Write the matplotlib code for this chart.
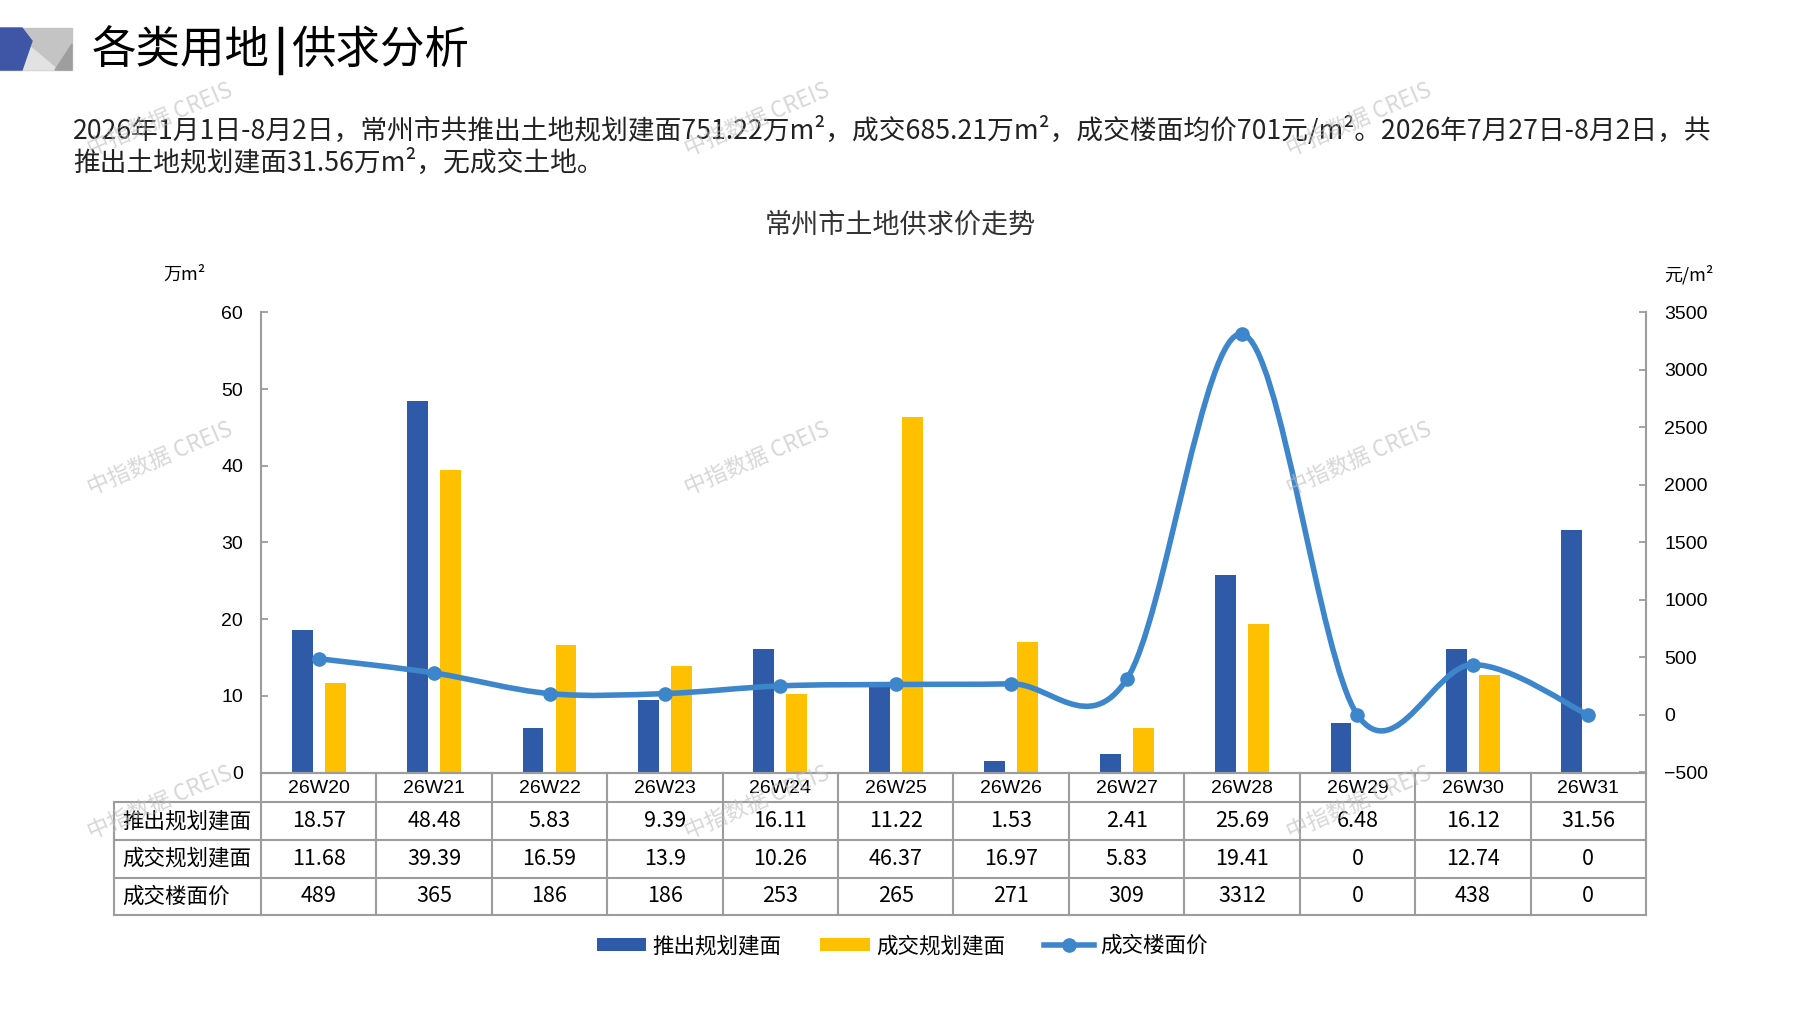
import numpy as np
import matplotlib
matplotlib.use('Agg')
import matplotlib.pyplot as plt
from matplotlib.path import Path
from matplotlib.patches import PathPatch, Polygon, Rectangle, Patch
from matplotlib.lines import Line2D
from matplotlib import transforms, font_manager

# data
weeks = ['26W20', '26W21', '26W22', '26W23', '26W24', '26W25',
         '26W26', '26W27', '26W28', '26W29', '26W30', '26W31']
push_area = [18.57, 48.48, 5.83, 9.39, 16.11, 11.22, 1.53, 2.41, 25.69, 6.48, 16.12, 31.56]
deal_area = [11.68, 39.39, 16.59, 13.9, 10.26, 46.37, 16.97, 5.83, 19.41, 0, 12.74, 0]
deal_price = [489, 365, 186, 186, 253, 265, 271, 309, 3312, 0, 438, 0]
row_names = ['推出规划建面', '成交规划建面', '成交楼面价']
left_ticks = [0, 10, 20, 30, 40, 50, 60]
right_ticks = [-500, 0, 500, 1000, 1500, 2000, 2500, 3000, 3500]

title_a, title_b = '各类用地', '供求分析'
para1 = '2026年1月1日-8月2日，常州市共推出土地规划建面751.22万m²，成交685.21万m²，成交楼面均价701元/m²。2026年7月27日-8月2日，共'
para2 = '推出土地规划建面31.56万m²，无成交土地。'
chart_title = '常州市土地供求价走势'

# colors / fonts
c_push = '#2F5AA8'
c_deal = '#FFC000'
c_line = '#3D86CC'
c_grid = '#9C9C9C'
cjk = ['Noto Sans CJK SC', 'DejaVu Sans']
names = {f.name for f in font_manager.fontManager.ttflist}
if 'Liberation Sans Narrow' in names:
    narrow, narrow_fs = 'Liberation Sans Narrow', 15.5
else:
    narrow, narrow_fs = 'Liberation Sans', 14
num = ['Liberation Sans', 'DejaVu Sans']

W, H = 1797, 1010
fig = plt.figure(figsize=(W / 100, H / 100), dpi=100)
pix = transforms.Affine2D().scale(1 / W, -1 / H).translate(0, 1) + fig.transFigure

# header logo
fig.patches.append(Rectangle((0, 28), 72, 42, transform=pix, color='#C4C4C4', zorder=1))
fig.patches.append(Polygon([(27, 44), (20, 70), (58, 70)], transform=pix, color='#E2E2E2', zorder=2))
fig.patches.append(Polygon([(55, 70), (72, 44), (72, 70)], transform=pix, color='#9E9E9E', zorder=2))
fig.patches.append(Polygon([(0, 28), (22, 28), (32, 41), (22, 70), (0, 70)], transform=pix,
                           color='#3E56A5', zorder=3))
fig.text(92, 50, title_a, transform=pix, fontsize=32, family=cjk, va='center', ha='left')
fig.lines.append(Line2D([281, 281], [29, 73], transform=pix, color='black', lw=3.2))
fig.text(291, 50, title_b, transform=pix, fontsize=32, family=cjk, va='center', ha='left')

t1 = fig.text(73, 130, para1, transform=pix, fontsize=18, family=cjk, va='center', ha='left',
              color='#222222')
t2 = fig.text(73, 163, para2, transform=pix, fontsize=18, family=cjk, va='center', ha='left',
              color='#222222')
fig.canvas.draw()
w1 = t1.get_window_extent().width
fs = 18 * (1709 - 73) / w1
t1.set_fontsize(fs)
t2.set_fontsize(fs)

fig.text(900, 225, chart_title, transform=pix, fontsize=19.5, family=cjk, va='center', ha='center',
         color='#333333')
fig.text(185, 275, '万m²', transform=pix, fontsize=13, family=cjk, va='center', ha='center')
fig.text(1689, 275, '元/m²', transform=pix, fontsize=13, family=cjk, va='center', ha='center')

# axes
ax = fig.add_axes([261 / W, 1 - 772.5 / H, (1646 - 261) / W, (772.5 - 312.3) / H])
ax2 = ax.twinx()

x = np.arange(len(weeks))
ax.bar(x - 0.143, push_area, width=0.18, color=c_push, zorder=2)
ax.bar(x + 0.143, deal_area, width=0.18, color=c_deal, zorder=2)
ax.set_xlim(-0.5, len(weeks) - 0.5)
ax.set_ylim(0, 60)
ax.set_yticks(left_ticks)
ax.set_xticks([])
ax2.set_ylim(-500, 3500)
ax2.set_yticks(right_ticks)

for a in (ax, ax2):
    for s in a.spines.values():
        s.set_visible(False)
    a.tick_params(axis='y', direction='in', length=5, width=1.3, color=c_grid,
                  labelsize=14, pad=13)
    for lab in a.get_yticklabels():
        lab.set_family(num)
ax.spines['left'].set_visible(True)
ax.spines['bottom'].set_visible(True)
ax2.spines['right'].set_visible(True)
for s in (ax.spines['left'], ax.spines['bottom'], ax2.spines['right']):
    s.set_color(c_grid)
    s.set_linewidth(1.5)

# smoothed price line (Catmull-Rom as cubic Bezier, like Excel smooth line)
xs = x.astype(float)
ys = np.array(deal_price, dtype=float)
n = len(xs)
verts = [(xs[0], ys[0])]
codes = [Path.MOVETO]
for i in range(n - 1):
    p0 = max(i - 1, 0)
    p3 = min(i + 2, n - 1)
    c1 = (xs[i] + (xs[i + 1] - xs[p0]) / 6, ys[i] + (ys[i + 1] - ys[p0]) / 6)
    c2 = (xs[i + 1] - (xs[p3] - xs[i]) / 6, ys[i + 1] - (ys[p3] - ys[i]) / 6)
    verts += [c1, c2, (xs[i + 1], ys[i + 1])]
    codes += [Path.CURVE4] * 3
ax2.add_patch(PathPatch(Path(verts, codes), facecolor='none', edgecolor=c_line, lw=4,
                        capstyle='round', joinstyle='round', zorder=3))
ax2.plot(xs, ys, 'o', ms=9.5, color=c_line, zorder=4)

# data table below the chart
bt = transforms.blended_transform_factory(ax.transData, pix)
rows_y = [772.5, 802, 840, 877.5, 915]
x_left = -0.5 - (261 - 114) / ((1646 - 261) / len(weeks))
x_right = len(weeks) - 0.5
line_kw = dict(color=c_grid, lw=1.5, transform=bt, clip_on=False, zorder=5)
ax.plot([-0.5, x_right], [rows_y[0]] * 2, **line_kw)
for yy in rows_y[1:]:
    ax.plot([x_left, x_right], [yy, yy], **line_kw)
for i in range(len(weeks) + 1):
    ax.plot([i - 0.5, i - 0.5], [rows_y[0], rows_y[-1]], **line_kw)
ax.plot([x_left, x_left], [rows_y[1], rows_y[-1]], **line_kw)

for i, wk in enumerate(weeks):
    ax.text(i, (rows_y[0] + rows_y[1]) / 2 + 1, wk, transform=bt, ha='center', va='center',
            family=[narrow, 'DejaVu Sans'], fontsize=narrow_fs, clip_on=False)
table_vals = [push_area, deal_area, deal_price]
for r, (name, vals) in enumerate(zip(row_names, table_vals)):
    yc = (rows_y[r + 1] + rows_y[r + 2]) / 2
    ax.text(x_left + 0.07, yc, name, transform=bt, ha='left', va='center', family=cjk,
            fontsize=15.5, clip_on=False)
    for i, v in enumerate(vals):
        ax.text(i, yc, f'{v:g}', transform=bt, ha='center', va='center', family=cjk,
                fontsize=15.5, clip_on=False)

# legend
handles = [Patch(facecolor=c_push), Patch(facecolor=c_deal),
           Line2D([], [], color=c_line, lw=4, marker='o', ms=9.5)]
ax2.legend(handles, row_names, ncol=3, loc='center', bbox_to_anchor=(902 / W, 1 - 946 / H),
           bbox_transform=fig.transFigure, frameon=False, prop={'family': cjk, 'size': 15.5},
           handlelength=2.3, handletextpad=0.3, columnspacing=1.8, handleheight=0.55)

# watermarks
for wy in (120, 459, 803):
    for wx in (160, 757, 1359):
        fig.text(wx, wy, '中指数据 CREIS', transform=pix, fontsize=16, family=cjk,
                 color='#BDBDBD', alpha=0.6, rotation=23, ha='center', va='center', zorder=10)

fig.savefig('out.png', dpi=100)
